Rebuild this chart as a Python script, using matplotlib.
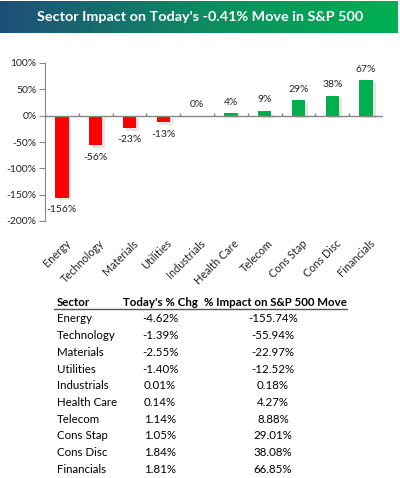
import numpy as np
import matplotlib
matplotlib.use("Agg")
import matplotlib.pyplot as plt
import matplotlib.patheffects as pe
from matplotlib.colors import LinearSegmentedColormap

plt.rcParams['font.family'] = ['Lato', 'DejaVu Sans']

title = "Sector Impact on Today's -0.41% Move in S&P 500"
sectors = ['Energy', 'Technology', 'Materials', 'Utilities', 'Industrials',
           'Health Care', 'Telecom', 'Cons Stap', 'Cons Disc', 'Financials']
pct_chg = [-4.62, -1.39, -2.55, -1.40, 0.01, 0.14, 1.14, 1.05, 1.84, 1.81]
impact = [-155.74, -55.94, -22.97, -12.52, 0.18, 4.27, 8.88, 29.01, 38.08, 66.85]
yticks = [-200, -150, -100, -50, 0, 50, 100]

W, H = 400, 478
fig = plt.figure(figsize=(W / 100, H / 100), dpi=100)

def fx(px):
    return px / W

def fy(py):
    return 1 - py / H

# title banner
bax = fig.add_axes([0, fy(33), fx(398), 32 / H])
cmap = LinearSegmentedColormap.from_list('ban', ['#1f4e79', '#0f8a62', '#00b050'])
bax.imshow(np.linspace(0, 1, 256).reshape(1, -1), aspect='auto', cmap=cmap,
           extent=[0, 1, 0, 1])
bax.set_axis_off()
bax.text(0.502, 0.5, title, color='white', fontsize=10.4, fontweight='bold',
         ha='center', va='center', transform=bax.transAxes)

# bar chart
ax = fig.add_axes([fx(45), fy(221), fx(383) - fx(45), (221 - 63) / H])
x = np.arange(len(sectors))
colors = ['#ff0000' if v < 0 else '#00b050' for v in impact]
bars = ax.bar(x, impact, width=0.4, color=colors, zorder=3)
for b in bars:
    b.set_path_effects([pe.SimplePatchShadow(offset=(2, -2), shadow_rgbFace='#999999', alpha=0.25),
                        pe.Normal()])

for xi, v in zip(x, impact):
    off = 11 if v >= 0 else -12
    ax.annotate('%d%%' % round(v), (xi, v), xytext=(0, off), textcoords='offset pixels',
                ha='center', va='center', fontsize=7.5, color='#222222')

ax.set_xlim(-0.5, len(sectors) - 0.5)
ax.set_ylim(-200, 100)
ax.set_yticks(yticks)
ax.set_yticklabels(['%d%%' % t for t in yticks], fontsize=7.5, color='#222222')
for s in ['top', 'right', 'bottom']:
    ax.spines[s].set_visible(False)
ax.spines['left'].set_color('#868686')
ax.tick_params(axis='y', direction='out', length=4, color='#868686', pad=2)
ax.axhline(0, color='#868686', lw=1, zorder=4)
ax.vlines(np.arange(len(sectors) + 1) - 0.5, 0, 5, color='#868686', lw=1, zorder=4)

ax.set_xticks(x + 0.08)
ax.set_xticklabels(sectors, rotation=45, ha='right', rotation_mode='anchor',
                   fontsize=7.8, color='#222222')
ax.tick_params(axis='x', length=0, pad=12)

# table
hdr_y = 302
fs = 8.3
fig.text(fx(57), fy(hdr_y), 'Sector', fontsize=fs, fontweight='bold', ha='left', va='center')
fig.text(fx(160), fy(hdr_y), "Today's % Chg", fontsize=fs, fontweight='bold', ha='center', va='center')
fig.text(fx(275), fy(hdr_y), '% Impact on S&P 500 Move', fontsize=fs, fontweight='bold',
         ha='center', va='center')
fig.add_artist(plt.Line2D([fx(54), fx(347)], [fy(309), fy(309)], color='#555555', lw=1))

for i, (s, c, m) in enumerate(zip(sectors, pct_chg, impact)):
    ry = 319 + i * 16.7
    fig.text(fx(57), fy(ry), s, fontsize=fs, ha='left', va='center')
    fig.text(fx(160), fy(ry), '%.2f%%' % c, fontsize=fs, ha='center', va='center')
    fig.text(fx(273), fy(ry), '%.2f%%' % m, fontsize=fs, ha='center', va='center')

fig.savefig('out.png', dpi=100)
